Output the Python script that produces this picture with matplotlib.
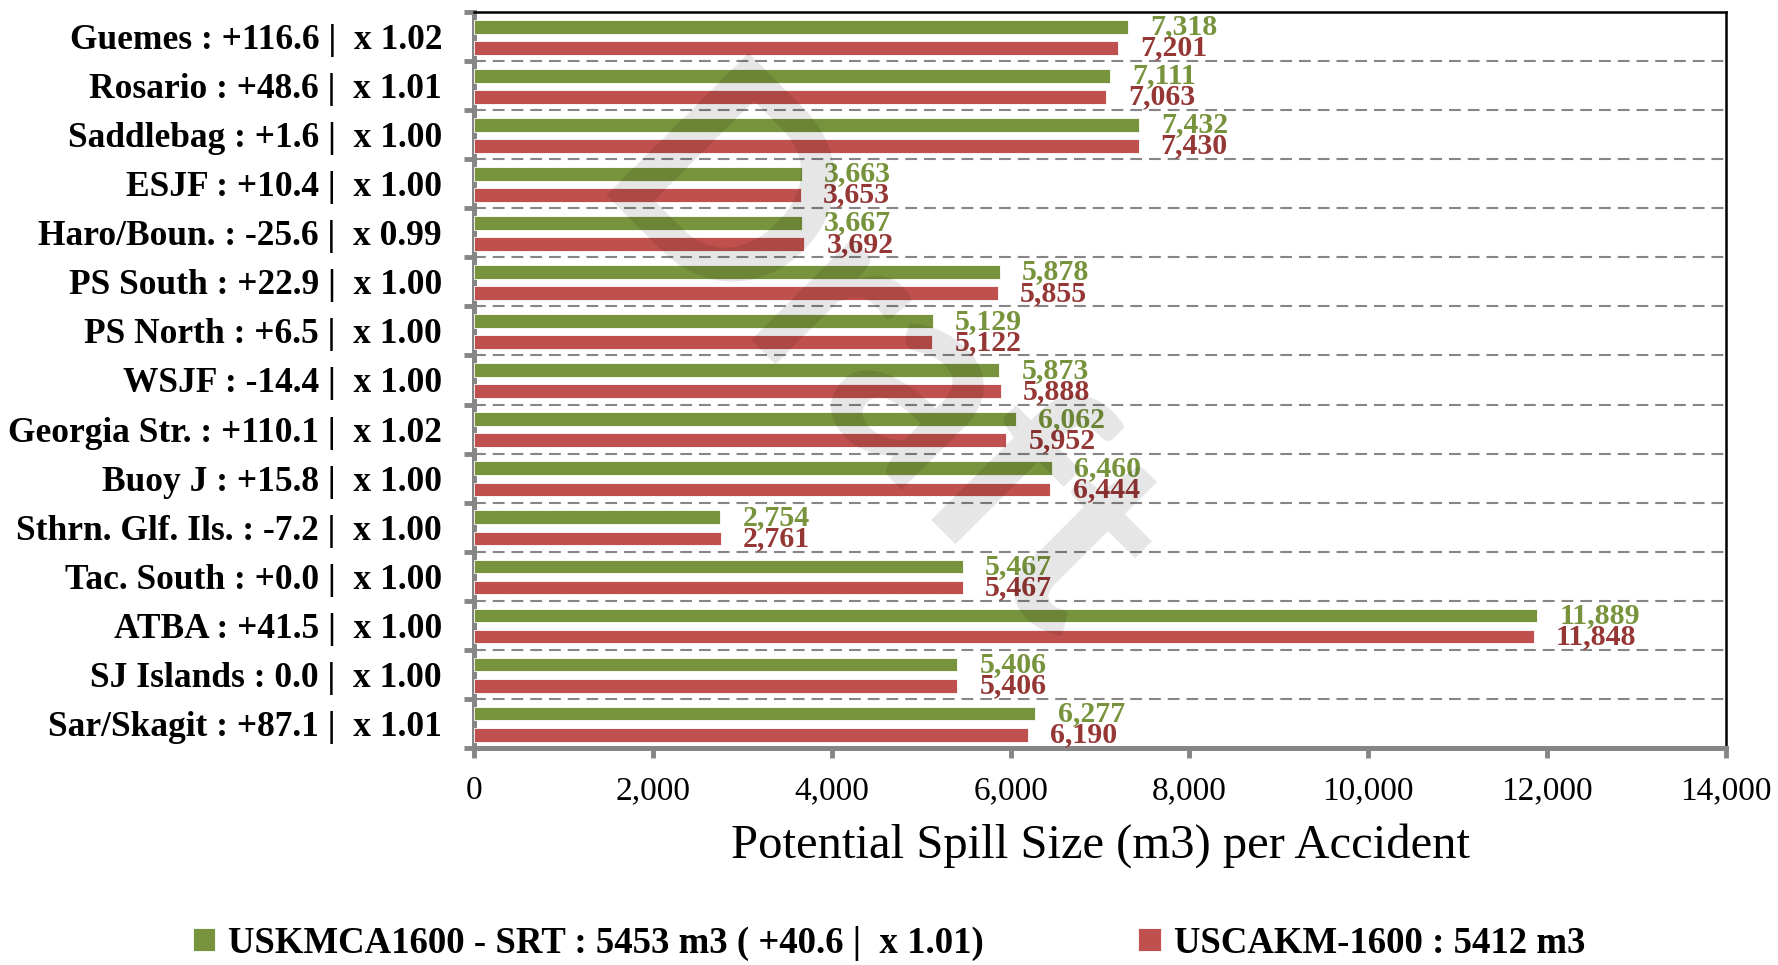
import matplotlib
matplotlib.use('Agg')
import matplotlib.pyplot as plt
import numpy as np
from matplotlib.ticker import FuncFormatter

# categories, top to bottom
regions = ['Guemes : +116.6 |  x 1.02', 'Rosario : +48.6 |  x 1.01',
           'Saddlebag : +1.6 |  x 1.00', 'ESJF : +10.4 |  x 1.00',
           'Haro/Boun. : -25.6 |  x 0.99', 'PS South : +22.9 |  x 1.00',
           'PS North : +6.5 |  x 1.00', 'WSJF : -14.4 |  x 1.00',
           'Georgia Str. : +110.1 |  x 1.02', 'Buoy J : +15.8 |  x 1.00',
           'Sthrn. Glf. Ils. : -7.2 |  x 1.00', 'Tac. South : +0.0 |  x 1.00',
           'ATBA : +41.5 |  x 1.00', 'SJ Islands : 0.0 |  x 1.00',
           'Sar/Skagit : +87.1 |  x 1.01']
srt_values = [7318, 7111, 7432, 3663, 3667, 5878, 5129, 5873, 6062, 6460,
              2754, 5467, 11889, 5406, 6277]
base_values = [7201, 7063, 7430, 3653, 3692, 5855, 5122, 5888, 5952, 6444,
               2761, 5467, 11848, 5406, 6190]
legend_labels = ['USKMCA1600 - SRT : 5453 m3 ( +40.6 |  x 1.01)',
                 'USCAKM-1600 : 5412 m3']
xticks = [0, 2000, 4000, 6000, 8000, 10000, 12000, 14000]

plt.rcParams['font.family'] = 'Liberation Serif'
plt.rcParams['lines.scale_dashes'] = False

green = '#77933C'
red = '#C0504D'
grey = '#868686'

fig = plt.figure(figsize=(17.78, 9.65), dpi=100)
ax = fig.add_axes([0.2666, 0.2249, 0.7042, 0.7627])

y = np.arange(len(regions))
b1 = ax.barh(y - 0.2, srt_values, height=0.28, color=green, edgecolor='white',
             linewidth=0.6, label=legend_labels[0], zorder=3)
b2 = ax.barh(y + 0.23, base_values, height=0.28, color=red, edgecolor='white',
             linewidth=0.6, label=legend_labels[1], zorder=3)

# value labels
for yy, v in zip(y - 0.2, srt_values):
    ax.annotate(f'{v:,}', (v, yy), xytext=(16, 0), textcoords='offset points',
                va='center', ha='left', fontsize=21.5, fontweight='bold', color=green)
for yy, v in zip(y + 0.23, base_values):
    ax.annotate(f'{v:,}', (v, yy), xytext=(16, 0), textcoords='offset points',
                va='center', ha='left', fontsize=21.5, fontweight='bold', color='#953735')

ax.set_xlim(0, 14000)
ax.set_ylim(len(regions) - 0.5, -0.5)
ax.set_xticks(xticks)
ax.xaxis.set_major_formatter(FuncFormatter(lambda v, p: f'{int(v):,}'))
ax.tick_params(axis='x', length=7, width=3.5, color=grey, pad=13, labelsize=24)

# gridlines between categories, labels at centers
ax.set_yticks(np.arange(-0.5, len(regions), 1))
ax.set_yticks(y, minor=True)
ax.set_yticklabels(regions, minor=True, fontsize=25.5, fontweight='bold')
ax.tick_params(axis='y', which='major', length=7, width=3.5, color=grey, labelleft=False)
ax.tick_params(axis='y', which='minor', length=0, pad=23)
ax.grid(axis='y', which='major', color=grey, linewidth=1.5, linestyle=(0, (8.5, 5)))
ax.set_axisbelow(True)

for s in ['left', 'bottom']:
    ax.spines[s].set_color(grey)
    ax.spines[s].set_linewidth(3.6)
for s in ['top', 'right']:
    ax.spines[s].set_color('black')
    ax.spines[s].set_linewidth(1.8)

ax.set_xlabel('Potential Spill Size (m3) per Accident', fontsize=35, labelpad=12)

# watermark
ax.text(0.318, 0.512, 'Draft', transform=ax.transAxes, fontsize=200, rotation=-45,
        color='black', alpha=0.1, ha='center', va='center', family='Lato',
        fontweight='bold', zorder=5)

fig.legend(handles=[b1, b2], labels=legend_labels, loc='lower center',
           bbox_to_anchor=(0.5, -0.03), ncol=2, frameon=False,
           prop={'size': 26.5, 'weight': 'bold'}, handlelength=0.6, handleheight=0.6,
           handletextpad=0.36, columnspacing=4.2)

plt.savefig('out.png', dpi=100)
